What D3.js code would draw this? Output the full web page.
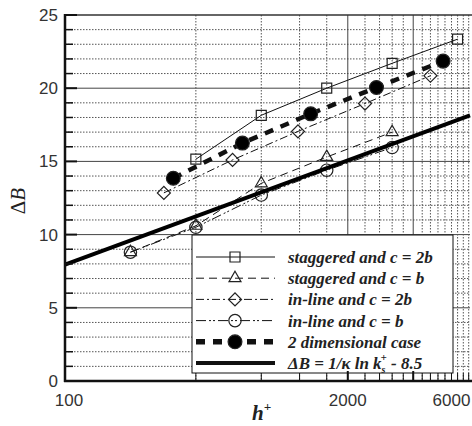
<!DOCTYPE html>
<html>
<head>
<meta charset="utf-8">
<script src="https://cdn.jsdelivr.net/npm/d3@7"></script>
<style>
 body { margin: 0; background: #fff; }
 svg { display: block; }
</style>
</head>
<body>
<div id="chart"></div>
<script>
// values
const hStag2b = [400, 800, 1600, 3200, 6400];
const dbStag2b = [15.15, 18.15, 20.0, 21.7, 23.35];
const hStagB = [200, 400, 800, 1600, 3200];
const dbStagB = [8.8, 10.6, 13.5, 15.3, 17.0];
const hInline2b = [285, 590, 1180, 2400, 4800];
const dbInline2b = [12.85, 15.1, 17.05, 18.95, 20.85];
const hInlineB = [200, 400, 800, 1600, 3200];
const dbInlineB = [8.8, 10.5, 12.7, 14.4, 15.95];
const h2d = [315, 655, 1350, 2710, 5490];
const db2d = [13.85, 16.25, 18.25, 20.05, 21.85];
const hLaw = [100, 7300];
const dbLaw = [7.95, 18.15];

const xTickLabels = [100, 2000, 6000];
const yTickLabels = [0, 5, 10, 15, 20, 25];
const xGrid = d3.range(400, 7300, 400);
const xSolid = [2000, 4000];

(function () {
 const W = 472, H = 426;
 const x = d3.scaleLog().domain([100, 7300]).range([65, 470]);
 const y = d3.scaleLinear().domain([0, 25]).range([381, 15]);

 const svg = d3.select("#chart").append("svg")
  .attr("width", W).attr("height", H);

 // horizontal grid
 const yMinor = d3.range(1, 25).filter((v) => v % 5 !== 0);
 svg.append("g").selectAll("line").data(yMinor).enter().append("line")
  .attr("x1", 65).attr("x2", 470)
  .attr("y1", (d) => y(d)).attr("y2", (d) => y(d))
  .attr("stroke", "#555").attr("stroke-width", 1)
  .attr("stroke-dasharray", "1.5,1.5");
 svg.append("g").selectAll("line").data([5, 10, 15, 20]).enter().append("line")
  .attr("x1", 65).attr("x2", 470)
  .attr("y1", (d) => y(d)).attr("y2", (d) => y(d))
  .attr("stroke", "#444").attr("stroke-width", 1);

 // vertical grid
 svg.append("g").selectAll("line").data(xGrid).enter().append("line")
  .attr("x1", (d) => x(d)).attr("x2", (d) => x(d))
  .attr("y1", y(25)).attr("y2", y(0))
  .attr("stroke", (d) => (xSolid.includes(d) ? "#444" : "#555"))
  .attr("stroke-width", 1)
  .attr("stroke-dasharray", (d) => (xSolid.includes(d) ? null : "1.5,1.5"));

 // top frame
 svg.append("line").attr("x1", 65).attr("x2", 472)
  .attr("y1", y(25)).attr("y2", y(25))
  .attr("stroke", "#333").attr("stroke-width", 1.5);

 // series lines
 const line = d3.line().x((d) => x(d[0])).y((d) => y(d[1]));
 const zip = (a, b) => a.map((v, i) => [v, b[i]]);

 const series = [
  { h: hStag2b, db: dbStag2b, dash: null, width: 1, sym: "square",
   label: "staggered and c = 2b" },
  { h: hStagB, db: dbStagB, dash: "8,5", width: 1, sym: "triangle",
   label: "staggered and c = b" },
  { h: hInline2b, db: dbInline2b, dash: "8,3,2,3", width: 1, sym: "diamond",
   label: "in-line and c = 2b" },
  { h: hInlineB, db: dbInlineB, dash: "10,3,2,2,2,3", width: 1, sym: "circle",
   label: "in-line and c = b" },
  { h: h2d, db: db2d, dash: "9,8", width: 4.5, sym: "dot",
   label: "2 dimensional case" },
 ];

 const symbolPath = (s) => {
  if (s === "square") return d3.symbol(d3.symbolSquare, 100)();
  if (s === "triangle") return d3.symbol(d3.symbolTriangle, 62)();
  if (s === "diamond") return d3.symbol(d3.symbolSquare, 85)();
  if (s === "circle") return d3.symbol(d3.symbolCircle, 120)();
  return d3.symbol(d3.symbolCircle, 150)();
 };
 const drawMarker = (g, s, px, py) => {
  g.append("path")
   .attr("d", symbolPath(s))
   .attr("transform", `translate(${px},${py})` + (s === "diamond" ? " rotate(45)" : ""))
   .attr("fill", s === "dot" ? "#000" : "none")
   .attr("stroke", "#222")
   .attr("stroke-width", 1.2);
 };

 const plot = svg.append("g");
 series.forEach((s) => {
  plot.append("path")
   .attr("d", line(zip(s.h, s.db)))
   .attr("fill", "none")
   .attr("stroke", "#111")
   .attr("stroke-width", s.width)
   .attr("stroke-dasharray", s.dash);
 });
 series.forEach((s) => {
  zip(s.h, s.db).forEach((d) => drawMarker(plot, s.sym, x(d[0]), y(d[1])));
 });

 // log-law line
 plot.append("path")
  .attr("d", line(zip(hLaw, dbLaw)))
  .attr("fill", "none").attr("stroke", "#000").attr("stroke-width", 4);

 // legend
 const lg = svg.append("g");
 lg.append("rect").attr("x", 192).attr("y", 235).attr("width", 261).attr("height", 138)
  .attr("fill", "#fff").attr("stroke", "#111").attr("stroke-width", 1);
 const rows = series.concat([{ dash: null, width: 4, sym: null, label: "law" }]);
 rows.forEach((s, i) => {
  const ry = 257 + i * 21.2;
  lg.append("line").attr("x1", 196).attr("x2", 275).attr("y1", ry).attr("y2", ry)
   .attr("stroke", "#111").attr("stroke-width", s.sym === "dot" ? 5.5 : s.width)
   .attr("stroke-dasharray", s.dash);
  if (s.sym) drawMarker(lg, s.sym, 235, ry);
  const t = lg.append("text").attr("x", 288).attr("y", ry + 6)
   .attr("font-family", "Liberation Serif, Times New Roman, serif")
   .attr("font-style", "italic").attr("font-weight", "bold")
   .attr("font-size", 17).attr("fill", "#222");
  if (s.label !== "law") {
   t.text(s.label);
  } else {
   t.append("tspan").text("\u0394B = 1/\u03ba ln k");
   t.append("tspan").attr("font-size", 10).attr("dy", 4).text("s");
   t.append("tspan").attr("font-size", 11).attr("dx", -5).attr("dy", -12).text("+");
   t.append("tspan").attr("dy", 8).text(" - 8.5");
  }
 });

 // axes
 svg.append("line").attr("x1", 65).attr("x2", 65).attr("y1", 14).attr("y2", 382)
  .attr("stroke", "#111").attr("stroke-width", 2.5);
 svg.append("line").attr("x1", 64).attr("x2", 472).attr("y1", 381).attr("y2", 381)
  .attr("stroke", "#111").attr("stroke-width", 2.5);

 // y ticks
 svg.append("g").selectAll("line").data(d3.range(1, 26)).enter().append("line")
  .attr("x1", 65).attr("x2", (d) => (d % 5 === 0 ? 77 : 73))
  .attr("y1", (d) => y(d)).attr("y2", (d) => y(d))
  .attr("stroke", "#111").attr("stroke-width", (d) => (d % 5 === 0 ? 2 : 1.5));
 // x ticks
 svg.append("g").selectAll("line").data(xGrid).enter().append("line")
  .attr("x1", (d) => x(d)).attr("x2", (d) => x(d))
  .attr("y1", 381).attr("y2", (d) => (xSolid.includes(d) ? 371 : 373))
  .attr("stroke", "#111").attr("stroke-width", (d) => (xSolid.includes(d) ? 2 : 1));

 const sans = "Liberation Sans, Arial, sans-serif";
 svg.append("g").selectAll("text").data(yTickLabels).enter().append("text")
  .attr("x", 58).attr("y", (d) => y(d) + 6)
  .attr("text-anchor", "end")
  .attr("font-family", sans).attr("font-size", 17).attr("fill", "#333")
  .text((d) => d);
 svg.append("g").selectAll("text").data(xTickLabels).enter().append("text")
  .attr("x", (d) => x(d) + (d === 100 ? 4 : 0)).attr("y", 406)
  .attr("text-anchor", "middle")
  .attr("font-family", sans).attr("font-size", 17).attr("fill", "#333")
  .text((d) => d);

 // axis titles
 const serif = "Liberation Serif, Times New Roman, serif";
 svg.append("text").attr("transform", "translate(25,201) rotate(-90)")
  .attr("text-anchor", "middle")
  .attr("font-family", serif).attr("font-size", 21).attr("fill", "#222")
  .call((t) => {
   t.append("tspan").text("\u0394");
   t.append("tspan").attr("font-style", "italic").text("B");
  });
 const xt = svg.append("text").attr("x", 252).attr("y", 420)
  .attr("font-family", serif).attr("font-size", 21)
  .attr("font-style", "italic").attr("font-weight", "bold").attr("fill", "#222");
 xt.append("tspan").text("h");
 xt.append("tspan").attr("font-size", 13).attr("dy", -9).text("+");
})();
</script>
</body>
</html>
